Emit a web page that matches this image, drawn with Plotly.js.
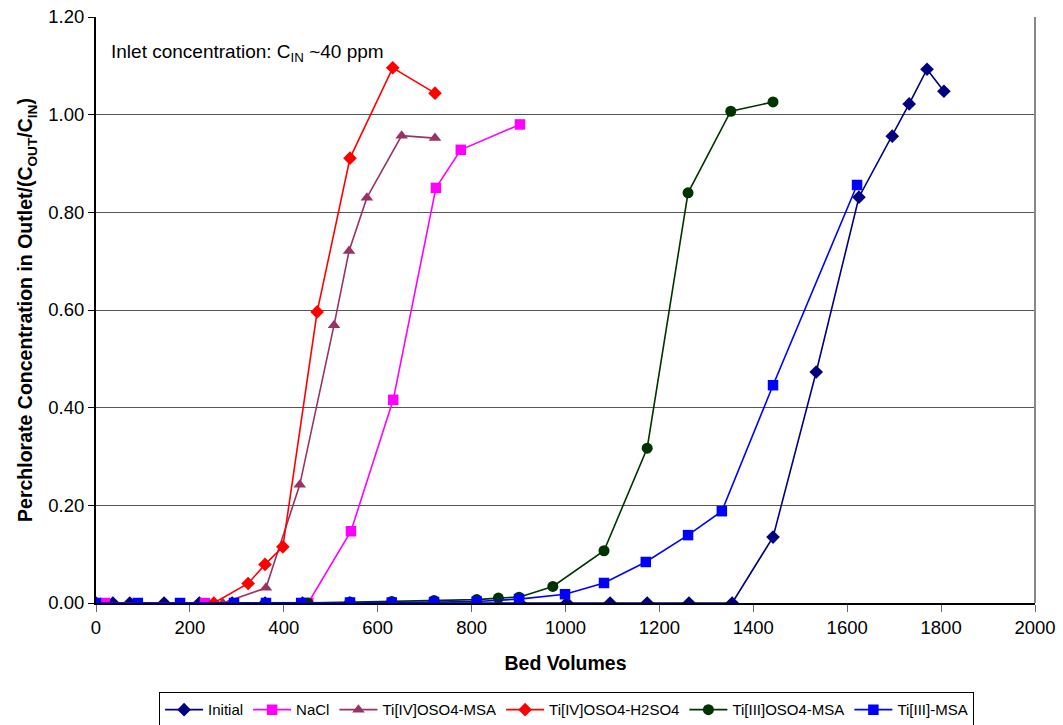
<!DOCTYPE html>
<html><head><meta charset="utf-8">
<script src="https://cdn.plot.ly/plotly-3.0.1.min.js"></script>
<style>html,body{margin:0;padding:0;background:#fff}#chart{width:1063px;height:725px}</style>
</head><body><div id="chart"></div>
<script>
// Initial
const initialX = [0, 36, 72, 145, 220, 290, 360, 440, 540, 720, 903, 1003, 1095, 1174, 1263, 1355, 1442, 1534, 1625, 1696, 1732, 1770, 1806];
const initialY = [0, 0, 0, 0, 0, 0, 0, 0, 0, 0, 0, 0, 0, 0, 0, 0, 0.135, 0.473, 0.831, 0.956, 1.022, 1.093, 1.048];
// NaCl
const naclX = [19, 232, 452, 543, 633, 724, 777, 903];
const naclY = [0, 0, 0, 0.147, 0.416, 0.850, 0.928, 0.980];
// Ti[IV]OSO4-MSA
const t4msaX = [270, 362, 434, 507, 539, 577, 651, 722];
const t4msaY = [0, 0.031, 0.242, 0.569, 0.721, 0.830, 0.957, 0.952];
// Ti[IV]OSO4-H2SO4
const t4h2X = [251, 324, 360, 398, 471, 541, 632, 722];
const t4h2Y = [0, 0.040, 0.079, 0.115, 0.596, 0.911, 1.096, 1.044];
// Ti[III]OSO4-MSA
const t3osoX = [451, 541, 630, 720, 811, 857, 901, 973, 1082, 1174, 1261, 1352, 1442];
const t3osoY = [0, 0.002, 0.003, 0.005, 0.007, 0.010, 0.012, 0.034, 0.107, 0.317, 0.840, 1.007, 1.026];
// Ti[III]-MSA
const t3msaX = [0, 89, 179, 294, 362, 437, 541, 630, 720, 811, 901, 999, 1082, 1171, 1261, 1333, 1442, 1621];
const t3msaY = [0, 0, 0, 0, 0, 0, 0.001, 0.001, 0.002, 0.003, 0.008, 0.018, 0.041, 0.084, 0.139, 0.188, 0.446, 0.856];

const xTicks = [0, 200, 400, 600, 800, 1000, 1200, 1400, 1600, 1800, 2000];
const yTicks = [0, 0.2, 0.4, 0.6, 0.8, 1.0, 1.2];

function tr(name, x, y, color, symbol, size) {
  return {type: 'scatter', mode: 'lines+markers', name: name, x: x, y: y,
    line: {color: color, width: 1.6},
    marker: {color: color, symbol: symbol, size: size, line: {width: 0}}};
}
const data = [
  tr('Initial', initialX, initialY, '#000080', 'diamond', 10.5),
  tr('NaCl', naclX, naclY, '#FF00FF', 'square', 10.5),
  tr('Ti[IV]OSO4-MSA', t4msaX, t4msaY, '#993366', 'triangle-up', 11),
  tr('Ti[IV]OSO4-H2SO4', t4h2X, t4h2Y, '#FF0000', 'diamond', 10.5),
  tr('Ti[III]OSO4-MSA', t3osoX, t3osoY, '#003300', 'circle', 11),
  tr('Ti[III]-MSA', t3msaX, t3msaY, '#0000FF', 'square', 10.5)
];
const F = 'Liberation Sans, Arial, sans-serif';
const fnt = (s) => ({family: F, size: s, color: '#000'});
const layout = {
  width: 1063, height: 725,
  margin: {l: 96, r: 28, t: 17, b: 122, autoexpand: false},
  paper_bgcolor: '#fff', plot_bgcolor: '#fff',
  font: fnt(15),
  showlegend: true,
  legend: {orientation: 'h', x: 0.533, xanchor: 'center', xref: 'container',
    y: 0.045, yanchor: 'top', yref: 'container',
    bordercolor: '#000', borderwidth: 1, font: fnt(15),
    itemwidth: 38, tracegroupgap: 0},
  xaxis: {range: [0, 2000], tickvals: xTicks, ticktext: xTicks.map(String),
    showgrid: false, zeroline: false, showline: true, linecolor: '#000', linewidth: 2,
    ticks: 'outside', ticklen: 7, tickcolor: '#666', tickwidth: 1,
    tickfont: fnt(18.5), automargin: false,
    title: {text: '<b>Bed Volumes</b>', font: fnt(19.5), standoff: 19}},
  yaxis: {range: [0, 1.2], tickvals: yTicks, tickformat: '.2f',
    showgrid: true, gridcolor: '#555', gridwidth: 1, zeroline: false,
    showline: true, linecolor: '#000', linewidth: 2,
    ticks: 'outside', ticklen: 6, tickcolor: '#000', tickwidth: 1,
    tickfont: fnt(18.5), automargin: false,
    title: {text: '<b>Perchlorate Concentration in Outlet/(C<sub>OUT</sub>/C<sub>IN</sub>)</b>',
      font: fnt(19.5), standoff: 10}},
  shapes: [{type: 'line', xref: 'paper', yref: 'paper', x0: 1, x1: 1, y0: 0, y1: 1,
    line: {color: '#888', width: 2}}],
  annotations: [{xref: 'paper', yref: 'paper', x: 0.0138, y: 0.9386, xanchor: 'left', yanchor: 'middle',
    showarrow: false, text: 'Inlet concentration: C<sub>IN</sub> ~40 ppm',
    font: fnt(19)}]
};
Plotly.newPlot('chart', data, layout, {displayModeBar: false, staticPlot: true});
</script></body></html>
